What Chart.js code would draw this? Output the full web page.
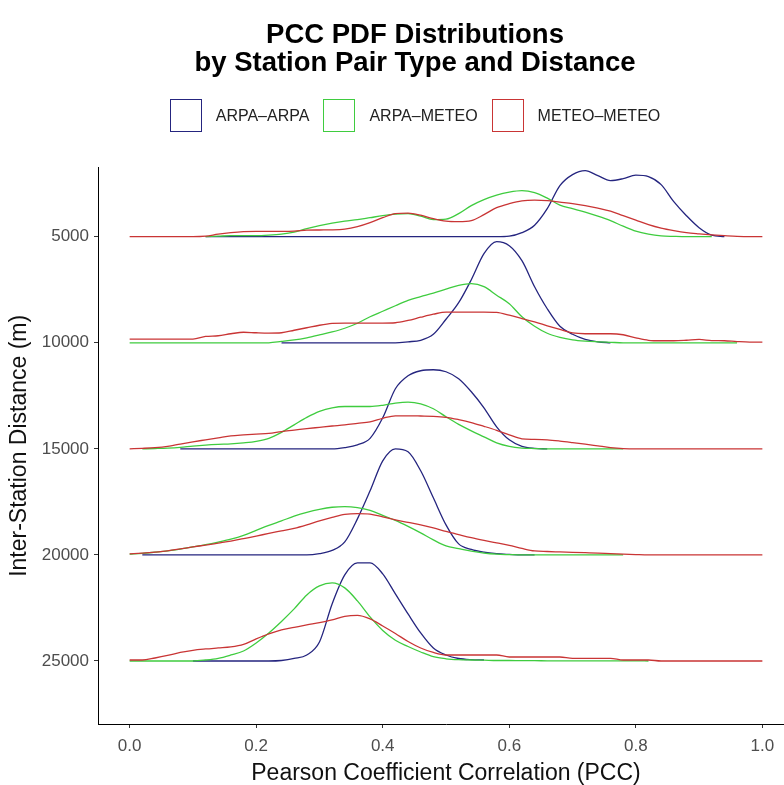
<!DOCTYPE html>
<html>
<head>
<meta charset="utf-8">
<script src="https://cdn.jsdelivr.net/npm/chart.js@4.4.1/dist/chart.umd.min.js"></script>
<style>
  html, body { margin: 0; padding: 0; background: #fff; overflow: hidden; }
  #wrap { position: relative; width: 784px; height: 785px; overflow: hidden; }
  #inner { position: absolute; left: 0; top: 0; width: 830px; height: 785px; }
  #legend { position: absolute; left: 0; top: 99px; width: 830px; display: flex; justify-content: center;
            font-family: "Liberation Sans", Arial, sans-serif; font-size: 16px; color: #222; }
  .item { display: flex; align-items: center; margin: 0 7px; }
  .box { box-sizing: border-box; width: 32px; height: 33px; border: 1.5px solid; margin-right: 14px; background: #fff; }
</style>
</head>
<body>
<div id="wrap">
  <div id="inner">
    <canvas id="ridges" width="830" height="785"></canvas>
    <div id="legend"></div>
  </div>
</div>
<script>
// PCC grid shared by every density curve
const pcc = [0.00, 0.02, 0.04, 0.06, 0.08, 0.10, 0.12, 0.14, 0.16, 0.18,
             0.20, 0.22, 0.24, 0.26, 0.28, 0.30, 0.32, 0.34, 0.36, 0.38,
             0.40, 0.42, 0.44, 0.46, 0.48, 0.50, 0.52, 0.54, 0.56, 0.58,
             0.60, 0.62, 0.64, 0.66, 0.68, 0.70, 0.72, 0.74, 0.76, 0.78,
             0.80, 0.82, 0.84, 0.86, 0.88, 0.90, 0.92, 0.94, 0.96, 0.98, 1.00];

const distances = [5000, 10000, 15000, 20000, 25000];
const pairTypes = ['ARPA–ARPA', 'ARPA–METEO', 'METEO–METEO'];
const pairColors = ['#25257f', '#3fcc3f', '#c93535'];

const xTicks = [0, 0.2, 0.4, 0.6, 0.8, 1.0];
const yTicks = [5000, 10000, 15000, 20000, 25000];

// ridge heights (density, scaled), one row per distance, null = no data
const arpaArpa = [
  [null,null,null,null,null,null,0,0,0,0, 0,0,0,0,0,0,0,0,0,0, 0,0,0,0,0,0,0,0,0,0,
   0.5,4,11.5,28,51,62,66,61,56,58, 61.5,60,52,35,21,9,1.5,0,null,null, null],
  [null,null,null,null,null,null,null,null,null,null, null,null,0,0,0,0,0,0,0,0, 0,0,1,2.5,8.5,23.5,40,63,89,101,
   97,82,56,34,16.5,8.5,3.5,1,0,null, null,null,null,null,null,null,null,null,null,null, null],
  [null,null,null,null,0,0,0,0,0,0, 0,0,0,0,0,0,0,1.3,4,10.5, 31,60,73,78,79,77,70,57,41,22,
   9,2.5,0.5,0,null,null,null,null,null,null, null,null,null,null,null,null,null,null,null,null, null],
  [null,0,0,0,0,0,0,0,0,0, 0,0,0,0,0,1.3,4.5,13,36,64, 94,106,103,84,57,30,11,5.5,2.7,1.2,
   0.5,0,0,null,null,null,null,null,null,null, null,null,null,null,null,null,null,null,null,null, null],
  [null,null,null,null,null,0,0,0,0,0, 0,0,0.5,2.5,6,19,57,86,98,98, 87,67,47,28,13,6,2.5,1.3,1,null,
   null,null,null,null,null,null,null,null,null,null, null,null,null,null,null,null,null,null,null,null, null]
];

const arpaMeteo = [
  [null,null,null,null,null,null,0,0.5,1,1, 1,1.5,2.5,4.5,8,11,13.5,15.5,17,19, 21,22.5,23,20.5,17,17.5,23,31,37,41.5,
   44.5,46,44,38.5,31.5,28,24.5,20.5,16,10.5, 5.5,2.5,0.8,0.3,0,0,0,null,null,null, null],
  [0,0,0,0,0,0,0,0,0,0, 0,0,1.3,2.8,5,7.8,10.8,14.5,19.5,26, 31.5,37,42.3,46,49.5,53.5,57.3,59,56,47.5,
   39,26,16.5,9.5,5.5,3,1.7,1,0.5,0, 0,0,0,0,0,0,0,0,0,null, null],
  [null,0,0.3,0.7,1.5,2.8,3.8,4.5,5,6, 7.5,10.5,16.5,24,31.5,37.5,41,42.3,42.3,42.3, 43.5,45.7,46.7,45,40,32,24.5,18,12,6,
   2.5,0.8,0.3,0,0,0,0,0,0,0, null,null,null,null,null,null,null,null,null,null, null],
  [0.7,1.5,2.7,4,5.8,8,10.2,12.8,15.7,19.5, 24.5,29.5,34,38.7,42.5,45.5,47.6,48.3,47.3,44.5, 39.5,34.5,28.5,22,15,9,6.3,3.7,1.8,0.7,
   0.3,0,0,0,0,0,0,0,0,0, null,null,null,null,null,null,null,null,null,null, null],
  [0,0,0,0,0,0,1,2.7,6,10, 18,28,39.5,52,66,75,78,73,60,44, 30.5,20.7,14.5,9,4.3,2.2,1.3,1,0.8,0.5,
   0.5,0.3,0.3,0.2,0.2,0.2,0.2,0.2,0.2,0.2, 0.2,0,null,null,null,null,null,null,null,null, null]
];

const meteoMeteo = [
  [0,0,0,0,0,0,0.5,2.5,4,5, 5.3,5.3,5.3,5.5,6.5,6.7,6.8,7.5,10,14, 19,23,23.5,21.5,18,15.5,15,16,22,29,
   33,35.8,36.5,36,34.5,33,31,28.5,25.5,21, 16.5,12,8.5,6,4,2.8,1.8,1,0.3,0, 0],
  [3.7,3.7,3.7,3.7,3.7,3.7,6.3,7,9,10.5, 10,9.7,10,12.5,15,17.5,19.3,19.7,19.7,19.7, 19.7,20,22.3,25.5,28.5,30.7,30.7,30.7,30.7,30.3,
   27.5,24.2,20.8,17,13.3,9.8,9,9,9,8, 5,2.5,2,2,2.5,3.3,2.2,2,1.2,0.7, 0.7],
  [0,0.5,1.2,2.5,4.8,7,9,11,13,14, 14.8,15.5,17.3,18.7,20.2,21.5,22.8,24,25.5,27, 30.5,33,33,32.8,32.5,31.5,29.2,26.3,22.5,18.5,
   14,10,9.5,9,7.8,6.3,4.7,3,1.3,0.3, 0,0,0,0,0,0,0,0,0,0, 0],
  [1,1.8,2.8,4.1,6,8,9.8,11.8,13.8,16.3, 18.8,21.5,24,26.5,30,34,37.5,40.5,41.3,40.8, 38,35,32.5,30,27,23.5,20.3,17.2,14.5,12,
   9.5,6.5,4,3.4,3,2.6,2.2,1.8,1.2,0.7, 0.3,0,0,0,0,0,0,0,0,0, 0],
  [1,1,3,5.5,8.5,10.7,12,13,14,16.5, 22,27,31,33.5,36,38.3,41,44.5,45.5,42, 35,27.5,19.5,13,8.5,6,6,6,6,6,
   4,4,4,4,4,2.7,2.7,2.7,2.7,1, 1,1,0,0,0,0,0,0,0,0, 0]
];

// metres of axis per unit of ridge height
const ridgeScale = 47.2;

function ridgePoints(curves) {
  const pts = [];
  curves.forEach((heights, k) => {
    heights.forEach((h, i) => {
      if (h !== null) pts.push({ x: pcc[i], y: distances[k] - h * ridgeScale });
    });
    pts.push({ x: 1, y: null }); // break between ridges
  });
  return pts;
}

const series = [arpaArpa, arpaMeteo, meteoMeteo];

Chart.defaults.font.family = '"Liberation Sans", Arial, sans-serif';

const ctx = document.getElementById('ridges');
const chart = new Chart(ctx, {
  type: 'line',
  data: {
    datasets: series.map((curves, s) => ({
      label: pairTypes[s],
      data: ridgePoints(curves),
      borderColor: pairColors[s],
      backgroundColor: '#fff',
      borderWidth: 1.3,
      pointRadius: 0,
      fill: false,
      spanGaps: false,
      cubicInterpolationMode: 'monotone',
      order: 2 - s
    }))
  },
  options: {
    responsive: false,
    animation: false,
    layout: { padding: { left: 36, right: 36, top: 0, bottom: 0 } },
    plugins: {
      legend: { display: false },
      tooltip: { enabled: false },
      title: {
        display: true,
        text: ['PCC PDF Distributions', 'by Station Pair Type and Distance'],
        color: '#000',
        font: { size: 27.5, weight: 'bold', lineHeight: 1.03 },
        padding: { top: 21, bottom: 90 }
      }
    },
    scales: {
      x: {
        type: 'linear',
        min: -0.05,
        max: 1.05,
        afterBuildTicks: s => { s.ticks = xTicks.map(v => ({ value: v })); },
        afterFit: s => { s.height = 61; },
        ticks: { callback: v => Number(v).toFixed(1), color: '#4d4d4d', font: { size: 17 }, padding: 8, maxRotation: 0, autoSkip: false },
        grid: { drawOnChartArea: false, tickLength: 4, tickColor: '#333' },
        border: { color: '#000', width: 1 },
        title: { display: true, text: 'Pearson Coefficient Correlation (PCC)', color: '#111', font: { size: 23 }, padding: { top: 0, bottom: -2 } }
      },
      y: {
        type: 'linear',
        reverse: true,
        min: 1745,
        max: 27970,
        afterBuildTicks: s => { s.ticks = yTicks.map(v => ({ value: v })); },
        afterFit: s => { s.width = 62; },
        ticks: { callback: v => String(v), color: '#4d4d4d', font: { size: 17 }, padding: 5, autoSkip: false },
        grid: { drawOnChartArea: false, tickLength: 4, tickColor: '#333' },
        border: { color: '#000', width: 1 },
        title: { display: true, text: 'Inter-Station Distance (m)', color: '#111', font: { size: 23 }, padding: { top: -30, bottom: 0 } }
      }
    }
  }
});

// legend in the ggplot style: open boxes, then labels
const legend = document.getElementById('legend');
chart.data.datasets.forEach(ds => {
  const item = document.createElement('div');
  item.className = 'item';
  const box = document.createElement('span');
  box.className = 'box';
  box.style.borderColor = ds.borderColor;
  const txt = document.createElement('span');
  txt.textContent = ds.label;
  item.appendChild(box);
  item.appendChild(txt);
  legend.appendChild(item);
});
</script>
</body>
</html>
